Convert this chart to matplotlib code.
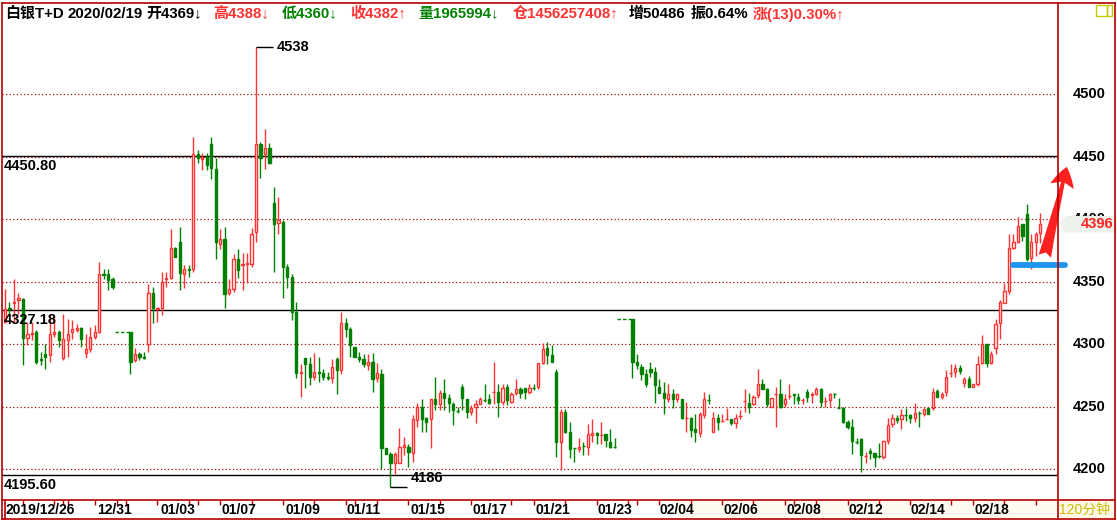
import matplotlib
matplotlib.use("Agg")
import matplotlib.pyplot as plt
from matplotlib.patches import Rectangle, Polygon
from matplotlib.lines import Line2D

# ---------------- data (120-minute candles, 白银T+D) ----------------
opens = [4318, 4329, 4333, 4335, 4336, 4305, 4308, 4310, 4288, 4292, 4291, 4308, 4310, 4289, 4303, 4310, 4311, 4313, 4293, 4296, 4306, 4310, 4356, 4356, 4352,
         4310, 4287, 4292, 4290, 4300, 4341, 4328, 4329, 4352, 4353, 4377, 4382, 4356, 4360, 4360, 4452, 4448, 4450, 4460, 4440, 4380, 4384, 4341, 4344, 4368, 4363, 4364, 4364, 4390, 4460,
         4452, 4457, 4413, 4397, 4398, 4362, 4354, 4326, 4277, 4289, 4284, 4274, 4278, 4277, 4274, 4273, 4288, 4279, 4317, 4312, 4298, 4290, 4288, 4283, 4286, 4273,
         4276, 4217, 4212, 4205, 4205, 4218, 4218, 4213, 4239, 4250, 4241, 4240, 4256, 4252, 4261, 4257, 4252, 4246.5, 4266, 4256, 4246, 4250, 4252, 4256, 4256, 4261.5,
         4262, 4254, 4266, 4254, 4261, 4264, 4265, 4262, 4265.5, 4266, 4285, 4297, 4291, 4278, 4222, 4246, 4230, 4217, 4216, 4218.5, 4218, 4227, 4229, 4227, 4228, 4222, 4218,
         4320, 4286, 4282, 4276, 4280, 4278, 4266, 4261, 4256, 4260, 4256, 4256, 4241, 4241, 4232, 4229, 4243, 4256, 4230, 4241, 4238, 4240, 4240.5, 4237, 4242, 4254,
         4253, 4252, 4259, 4268, 4264.5, 4250, 4260, 4260.5, 4252, 4258, 4260, 4258, 4255.5, 4262, 4259, 4260, 4264.5, 4254, 4255, 4260.5, 4249.5, 4249, 4238, 4234,
         4222, 4224, 4210, 4214.5, 4213, 4210.5, 4210, 4222.5, 4236, 4241,
         4240, 4244, 4243.5, 4241, 4245.5, 4244.5, 4249, 4249, 4262.5, 4258, 4262, 4277, 4278, 4281, 4269, 4272, 4266, 4268, 4285, 4300, 4285, 4297, 4317, 4333,
         4342.5, 4377, 4382, 4396, 4404.5, 4369, 4382, 4389]
highs = [4344, 4334, 4352, 4341, 4337, 4318, 4318, 4311, 4294, 4300, 4324, 4322, 4311, 4324, 4320, 4319, 4316, 4314, 4308, 4314, 4315, 4366, 4360, 4360, 4354,
         4310, 4297, 4294, 4294, 4348, 4346, 4330, 4358, 4358, 4392, 4378, 4394, 4363, 4363, 4466, 4455, 4453, 4453, 4466, 4449, 4392, 4394, 4352, 4372, 4376, 4373, 4373, 4393, 4538, 4462,
         4472, 4461, 4426, 4418, 4399, 4364, 4356, 4334, 4284, 4289, 4290, 4293, 4290, 4280, 4278, 4288, 4290, 4326, 4321, 4314, 4298, 4294, 4292, 4292, 4293, 4285,
         4280, 4217, 4214, 4214, 4233, 4226, 4220, 4243, 4253, 4256, 4242, 4256, 4274, 4263, 4272, 4260, 4254, 4250, 4268, 4256.5, 4251, 4255, 4258, 4268, 4260, 4286,
         4268, 4268, 4268, 4262, 4272, 4266, 4265, 4268, 4268, 4285, 4301, 4302, 4299, 4280, 4248, 4248, 4238, 4217, 4225, 4222, 4236, 4240, 4230, 4238, 4228, 4232, 4225,
         4320, 4292, 4284, 4280, 4286, 4282, 4272, 4270, 4268, 4264, 4261, 4256.5, 4254, 4241.5, 4244, 4246, 4262, 4260, 4246, 4244, 4244, 4249, 4240.5, 4244, 4247, 4264,
         4261, 4259, 4280, 4272, 4265, 4257, 4266, 4272.5, 4260, 4268.5, 4260, 4261, 4257, 4264.5, 4262, 4266, 4265, 4258, 4261, 4261, 4257, 4250, 4239, 4240,
         4225, 4225, 4214, 4217, 4213, 4221, 4222.5, 4241, 4244, 4243,
         4248, 4249, 4244.5, 4253, 4246.5, 4249, 4249, 4265, 4264.5, 4262, 4279, 4284.5, 4284.5, 4283.5, 4274, 4274.5, 4268, 4290.5, 4307, 4300.5, 4294.5, 4320, 4335, 4349,
         4388, 4388, 4402, 4396, 4412, 4388, 4390, 4405]
lows = [4317, 4324, 4318, 4324, 4283, 4299, 4303, 4284, 4283, 4280, 4286, 4306, 4298, 4287, 4290, 4304, 4310, 4298, 4289, 4294, 4304, 4309, 4352, 4343, 4344,
        4276, 4286, 4287, 4288, 4294, 4317, 4318, 4323, 4346, 4352, 4370, 4343, 4345, 4354, 4358, 4445, 4439, 4439, 4432, 4368, 4376, 4329, 4339, 4342, 4353, 4343, 4349, 4362, 4382, 4433,
        4440, 4444, 4358, 4388, 4337, 4345, 4319, 4273, 4258, 4265, 4267, 4271, 4270, 4271, 4271, 4269, 4260, 4276, 4306, 4290, 4290, 4286, 4282, 4279, 4262, 4270,
        4200, 4212, 4186, 4196, 4205, 4211, 4202, 4206, 4234, 4230, 4230, 4217, 4247, 4247, 4247, 4246, 4235, 4245, 4247, 4241, 4243, 4237, 4252, 4254, 4252, 4252,
        4242, 4251, 4251, 4253, 4259, 4257, 4256, 4260, 4263, 4264, 4284, 4284, 4286, 4210, 4199, 4229, 4209, 4206, 4214, 4211, 4211, 4222, 4220, 4220, 4218, 4217, 4217,
        4273, 4280, 4271, 4266, 4274, 4253, 4261, 4244, 4254, 4249, 4254, 4240, 4230, 4226, 4222, 4226, 4241, 4252, 4230, 4231, 4238, 4239, 4235, 4233, 4240, 4246,
        4245, 4251, 4257, 4264, 4250, 4250, 4234, 4249, 4250, 4256, 4252, 4252, 4252.5, 4254, 4253, 4259, 4250, 4250, 4250, 4257, 4249, 4237, 4232.5, 4212.5,
        4220.5, 4198, 4205, 4208, 4202, 4209, 4208, 4220.5, 4234, 4237,
        4232.5, 4238.5, 4237, 4238, 4234, 4242.5, 4244.5, 4247, 4258, 4256.5, 4258.5, 4274, 4274, 4276.5, 4266, 4266, 4266, 4266.5, 4284, 4282, 4284.5, 4292.5, 4304, 4333,
        4340.5, 4376.5, 4381, 4382.5, 4366.5, 4360, 4370.5, 4381]
closes = [4328, 4328, 4334, 4337, 4305, 4308, 4309, 4286, 4287, 4290, 4308, 4310, 4303, 4304, 4308, 4312, 4313, 4304, 4296, 4306, 4310, 4356, 4355, 4351, 4346,
          4286, 4292, 4290, 4289, 4341, 4329, 4329, 4350, 4353, 4377, 4370, 4357, 4360, 4359, 4452, 4449, 4450, 4443, 4441, 4382, 4384, 4340, 4344, 4368, 4359, 4364, 4365, 4388, 4460, 4449,
          4457, 4445, 4396, 4399, 4362, 4354, 4326, 4277, 4278, 4284, 4274, 4278, 4277, 4274, 4273, 4282, 4279, 4317, 4312, 4299, 4290, 4288, 4284, 4286, 4272, 4277,
          4217, 4212, 4205, 4212, 4218, 4219, 4214, 4240, 4250, 4240, 4238, 4256, 4252, 4261, 4257, 4253, 4247, 4246, 4257, 4246, 4249, 4252, 4256, 4255.5, 4253, 4262,
          4254, 4265, 4255, 4260, 4264, 4261, 4262, 4265, 4265, 4285, 4296, 4291, 4286, 4222, 4246, 4230, 4216.5, 4216.5, 4218, 4218, 4228, 4229, 4227, 4227.5, 4223, 4218, 4217.5,
          4286, 4283, 4276, 4268, 4278, 4267, 4261, 4257, 4260, 4256, 4260, 4241, 4241.5, 4231, 4230, 4244, 4256, 4255.5, 4241, 4238, 4238.5, 4240.5, 4237, 4241, 4242.5, 4254.5,
          4250, 4258, 4268, 4264.5, 4252, 4257, 4260.5, 4250, 4256.5, 4258.5, 4259, 4255, 4256, 4258, 4260.5, 4264.5, 4254, 4254.5, 4260.5, 4260, 4249, 4238, 4234, 4222.5,
          4221.5, 4211, 4210.5, 4213, 4210, 4210, 4222.5, 4235.5, 4241, 4239,
          4243.5, 4243.5, 4241, 4245, 4245, 4248.5, 4244.5, 4262, 4258, 4260.5, 4274, 4277.5, 4281, 4278.5, 4272, 4266, 4268, 4284.5, 4300.5, 4285, 4292.5, 4316, 4334, 4342.5,
          4377, 4382, 4394.5, 4386.5, 4368.5, 4382, 4388, 4396]
segment_lengths = [25, 109, 92]          # trading stretches separated by holiday gaps
gap_prices = [4310, 4320]                # flat dashed price during the gaps
gap_slots = 3

date_labels = ["2019/12/26", "12/31", "01/03", "01/07", "01/09", "01/11", "01/15", "01/17",
               "01/21", "01/23", "02/04", "02/06", "02/08", "02/12", "02/14", "02/18"]
date_label_slots = [0.2, 20.5, 34.6, 48.4, 62.5, 76.3, 90.4, 104.2, 118.3, 132.3,
                    146.1, 160.4, 174.3, 188.1, 202.1, 216.2]
day_tick_slots = [4, 11, 13, 14, 20, 25, 27, 34, 41, 43, 48, 55, 62, 69, 76, 78, 83, 90, 97, 104,
                  113, 118, 125, 132, 139, 141, 146, 153, 160, 167, 174, 176, 181, 188, 195, 202,
                  211, 216, 223, 230]
ref_levels = [4450.80, 4327.18, 4195.60]
grid_levels = [4200, 4250, 4300, 4350, 4400, 4450, 4500]
support_level = 4363
period_label = "120分钟"

header_items = [("白银T+D", "k"), ("2020/02/19", "k"), ("开4369↓", "k"), ("高4388↓", "r"),
                ("低4360↓", "g"), ("收4382↑", "r"), ("量1965994↓", "g"), ("仓1456257408↑", "r"),
                ("增50486", "k"), ("振0.64%", "k"), ("涨(13)0.30%↑", "r")]
header_x = [5, 68, 146, 213.6, 282, 350, 418, 512.5, 628.8, 691, 752.5]

# ---------------- styling ----------------
RED = "#FF3232"
GREEN = "#008000"
FRAME = "#B40000"
GRID = "#A00000"
FONT = ["Liberation Sans", "Noto Sans CJK SC", "DejaVu Sans"]
colmap = {"k": "black", "r": RED, "g": GREEN}
PX = 0.72  # one pixel in points

W, H = 1117, 520
fig = plt.figure(figsize=(W / 100, H / 100), dpi=100)
fig.patch.set_facecolor("white")


def fx(x):
    return x / W


def fy(y):
    return 1 - y / H


XL = (-0.67, 234.94)
YL = (4176.2, 4573.0)
ax = fig.add_axes([fx(2), fy(499), (1058 - 2) / W, (499 - 3) / H])
ax.set_xlim(*XL)
ax.set_ylim(*YL)
ax.axis("off")

# slot positions
slots = []
s = 0
seg_ends = []
for n in segment_lengths:
    slots.extend(range(s, s + n))
    seg_ends.append((s, s + n - 1))
    s += n + gap_slots

# grid
ax.hlines(grid_levels, XL[0], XL[1], colors=GRID, linestyles=(0, (1, 2)), lw=PX * 1.2, zorder=1)
for v in ref_levels:
    ax.axhline(v, color="black", lw=1.0, zorder=1.5)
    ax.annotate(f"{v:.2f}", xy=(0, v), xycoords=("axes fraction", "data"), xytext=(2, -3),
                textcoords="offset pixels", ha="left", va="top", fontsize=10.5,
                fontweight="bold", family=FONT, zorder=6)

# holiday dashed segments
for k, p in enumerate(gap_prices):
    x0 = seg_ends[k][1] + 0.5
    x1 = seg_ends[k + 1][0] - 0.2
    ax.hlines(p, x0, x1, colors=GREEN, linestyles=(0, (2.5, 1.5)), lw=1.0, zorder=2)

# candles
w = 0.5
for x, o, h, l, c in zip(slots, opens, highs, lows, closes):
    up = c >= o
    col = RED if up else GREEN
    ax.vlines(x, l, h, colors=col, lw=1.0, zorder=3)
    if abs(c - o) < 1.0:
        ax.hlines((o + c) / 2, x - w / 2 - 0.1, x + w / 2 + 0.1, colors=col, lw=1.0, zorder=4)
    else:
        ax.add_patch(Rectangle((x - w / 2, min(o, c)), w, abs(c - o),
                               facecolor="white" if up else GREEN, edgecolor=col,
                               lw=1.0, zorder=4))

# extreme markers
imax = max(range(len(highs)), key=lambda i: highs[i])
imin = min(range(len(lows)), key=lambda i: lows[i])
xm = slots[imax]
ax.hlines(highs[imax], xm, xm + 3.8, colors="black", lw=1.0, zorder=5)
ax.text(xm + 4.6, highs[imax], f"{highs[imax]:.0f}", ha="left", va="center", fontsize=10.5,
        fontweight="bold", family=FONT, zorder=6)
xn = slots[imin]
ax.hlines(lows[imin], xn, xn + 3.8, colors="black", lw=1.0, zorder=5)
ax.text(xn + 4.5, lows[imin] + 1.5, f"{lows[imin]:.0f}", ha="left", va="bottom", fontsize=10.5,
        fontweight="bold", family=FONT, zorder=6)

# right price axis labels
tr = ax.get_yaxis_transform()
for v in grid_levels:
    ax.text(1.0139, v, f"{v}", transform=tr, ha="left", va="center", fontsize=10.5,
            fontweight="bold", family=FONT, clip_on=False, zorder=6)

# last price tag (covers the 4400 label like the reference)
last = closes[-1]
tag = Polygon([(1.0012, last), (1.0076, last + 6.6), (1.0580, last + 6.6),
               (1.0580, last - 6.6), (1.0076, last - 6.6)], closed=True,
              transform=tr, facecolor="#EDF3EB", edgecolor="none", clip_on=False, zorder=7)
ax.add_patch(tag)
ax.text(1.0220, last, f"{last:.0f}", transform=tr, ha="left", va="center", fontsize=10.5,
        fontweight="bold", color="#FF2020", family=FONT, clip_on=False, zorder=8)

# hand-drawn support line and arrow
ax.plot([224.8, 236.5], [support_level, support_level], color="#1E96F0", lw=4.2,
        solid_capstyle="round", clip_on=False, zorder=9)
ax.annotate("", xy=(236.9, 4442), xytext=(232.0, 4370.5),
            arrowprops=dict(arrowstyle="fancy,head_length=0.6,head_width=0.72,tail_width=0.38",
                            color="#FF2020", lw=0, shrinkA=0, shrinkB=0, mutation_scale=24,
                            clip_on=False),
            annotation_clip=False, zorder=9)

# date strip
dax = fig.add_axes([fx(2), fy(519), (1058 - 2) / W, (519 - 500) / H])
dax.set_xlim(*XL)
dax.set_ylim(0, 1)
dax.axis("off")
dax.axvspan(149.5, XL[1], color="#FFFAF0", lw=0, zorder=0)
for sl, lab in zip(date_label_slots, date_labels):
    dax.text(sl, 0.45, lab, ha="left", va="center", fontsize=10, fontweight="bold", family=FONT)
dax.vlines(day_tick_slots, 0.72, 1.0, colors=FRAME, lw=1.0)

# period box
fig.add_artist(Rectangle((fx(1058), fy(519)), (1115 - 1058) / W, 19 / H, transform=fig.transFigure,
                         facecolor="#FFF8E6", edgecolor="none"))
fig.text(fx(1058.5), fy(510), period_label, ha="left", va="center", fontsize=10,
         color="#C8BE00", family=["Liberation Sans", "Noto Sans CJK SC"])

# frame lines
def fline(x0, y0, x1, y1, lw=1.2):
    fig.add_artist(Line2D([fx(x0), fx(x1)], [fy(y0), fy(y1)], transform=fig.transFigure,
                          color=FRAME, lw=lw, zorder=10))

fline(1.5, 3.3, 1115, 3.3)
fline(1.5, 3.3, 1.5, 519.5)
fline(1115, 3.3, 1115, 519.5)
fline(1057.7, 3.3, 1057.7, 519.5)
fline(1.5, 500, 1115, 500)
fline(1.5, 519.3, 1115, 519.3)
fline(5.4, 500, 5.4, 519.3)

# top-right icon
fig.add_artist(Rectangle((fx(1096), fy(16)), 11 / W, 11 / H, transform=fig.transFigure,
                         facecolor="none", edgecolor="#C8C800", lw=1.0))
fig.add_artist(Rectangle((fx(1107), fy(16)), 5 / W, 11 / H, transform=fig.transFigure,
                         facecolor="none", edgecolor="#C8C800", lw=1.0))

# header
for (txt, c), x in zip(header_items, header_x):
    fig.text(fx(x), fy(14), txt, ha="left", va="center", fontsize=10.8, fontweight="bold",
             color=colmap[c], family=FONT, zorder=11)

fig.savefig("out.png", dpi=100, facecolor="white")
